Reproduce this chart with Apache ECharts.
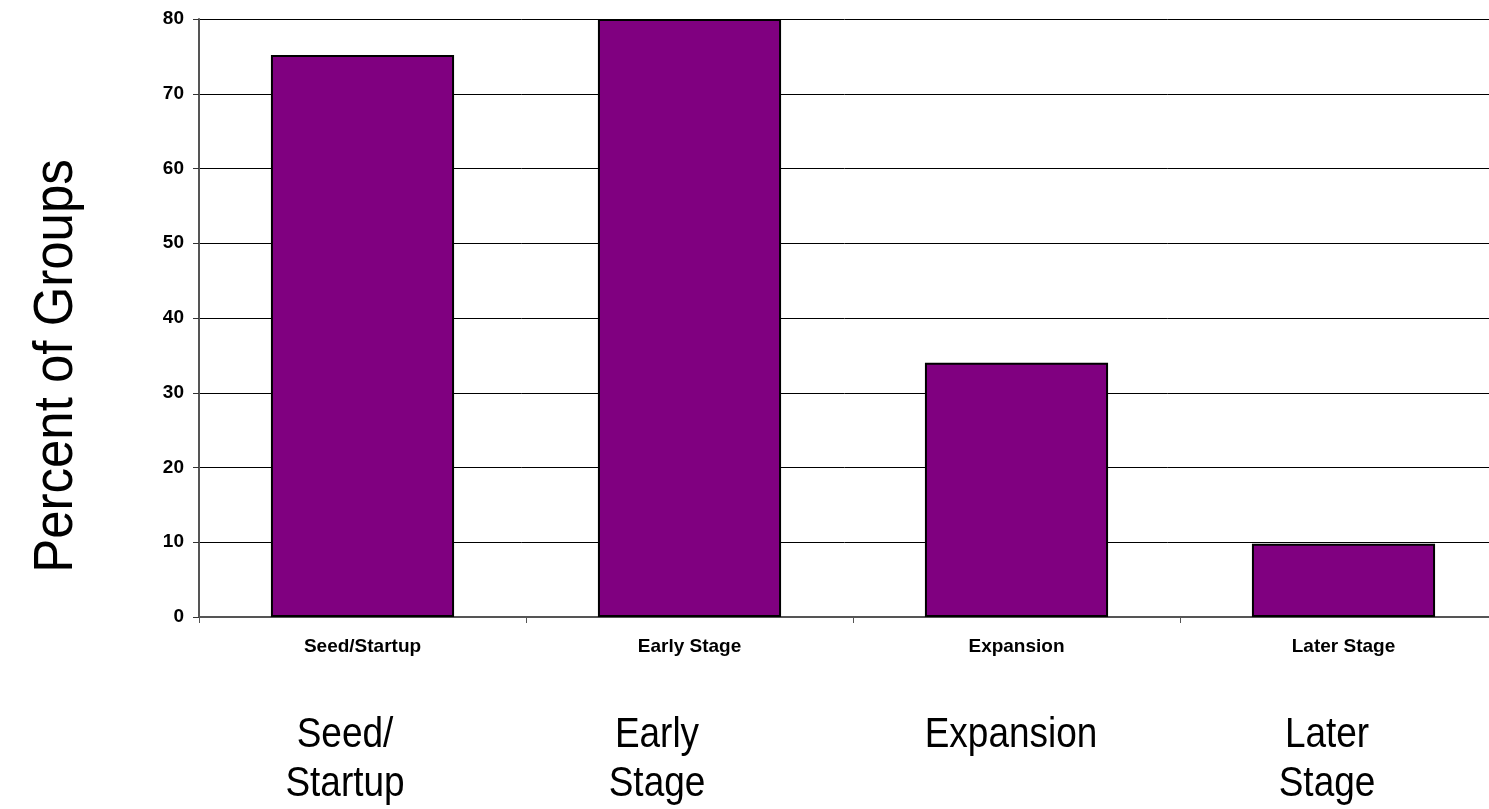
<!DOCTYPE html>
<html>
<head>
<meta charset="utf-8">
<script src="https://cdn.jsdelivr.net/npm/echarts@6/dist/echarts.min.js"></script>
<style>
html,body{margin:0;padding:0;background:#fff;}
#chart{width:1489px;height:809px;}
</style>
</head>
<body>
<div id="chart"></div>
<script>
const categories = ['Seed/Startup', 'Early Stage', 'Expansion', 'Later Stage'];
const percentOfGroups = [75.2, 80, 34, 9.8];
const yTicks = [0, 10, 20, 30, 40, 50, 60, 70, 80];
const bigLabels = ['Seed/\nStartup', 'Early\nStage', 'Expansion', 'Later\nStage'];
const bigLabelX = [345, 657, 1011, 1327];
const yAxisTitle = 'Percent of Groups';

const sans = '"Liberation Sans", Arial, sans-serif';
const chart = echarts.init(document.getElementById('chart'), null, {renderer: 'canvas'});

const graphics = bigLabels.map((t, i) => ({
  type: 'text',
  x: bigLabelX[i],
  y: 711,
  scaleX: 0.88,
  style: {
    text: t,
    fontFamily: sans,
    fontSize: 42,
    lineHeight: 49,
    fill: '#000',
    align: 'center',
    verticalAlign: 'top'
  }
}));
graphics.push({
  type: 'text',
  x: 57,
  y: 366,
  rotation: Math.PI / 2,
  scaleX: 0.91,
  style: {
    text: yAxisTitle,
    fontFamily: sans,
    fontSize: 56,
    fill: '#000',
    align: 'center',
    verticalAlign: 'middle'
  }
});

chart.setOption({
  animation: false,
  backgroundColor: '#fff',
  grid: {left: 199, top: 19, width: 1308, height: 598, containLabel: false, outerBoundsMode: 'none'},
  xAxis: {
    type: 'category',
    data: categories,
    axisLine: {show: true, lineStyle: {color: '#555', width: 2}},
    axisTick: {show: true, length: 6, lineStyle: {color: '#555', width: 1}},
    axisLabel: {
      color: '#000', fontFamily: sans,
      fontWeight: 'bold', fontSize: 19, margin: 20
    },
    splitLine: {show: false}
  },
  yAxis: {
    type: 'value',
    min: 0, max: 80, interval: 10,
    axisLine: {show: true, lineStyle: {color: '#555', width: 2}},
    axisTick: {show: true, length: 6, lineStyle: {color: '#333', width: 1}},
    axisLabel: {
      color: '#000', fontFamily: sans,
      fontWeight: 'bold', fontSize: 19, margin: 15
    },
    splitLine: {show: true, lineStyle: {color: '#000', width: 1}}
  },
  series: [{
    type: 'bar',
    data: percentOfGroups,
    barWidth: '56%',
    itemStyle: {color: '#800080', borderColor: '#000', borderWidth: 2}
  }],
  graphic: graphics
});
</script>
</body>
</html>
